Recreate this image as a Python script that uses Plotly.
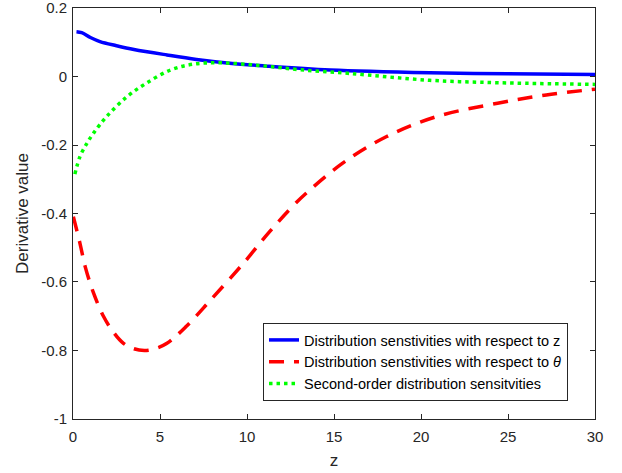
import plotly.graph_objects as go

z_blue = [0.2, 0.5, 1.0, 1.55, 2.5, 3.5, 5.4, 7.1, 9.0, 11.0, 14.8, 20.5, 25.0, 30.0]
v_blue = [0.131, 0.128, 0.114, 0.102, 0.09, 0.079, 0.063, 0.05, 0.039, 0.031, 0.019, 0.011, 0.008, 0.006]

z_red = [0.02, 0.4, 0.7, 1.2, 1.75, 2.3, 2.9, 3.5, 4.1, 4.7, 5.4, 6.5, 7.9, 9.8, 11.3, 12.7, 13.4, 15.5,
         18.0, 20.9, 24.4, 27.2, 30.0]
v_red = [-0.409, -0.487, -0.555, -0.635, -0.70, -0.745, -0.779, -0.795, -0.80, -0.795, -0.779, -0.73,
         -0.653, -0.545, -0.453, -0.375, -0.341, -0.253, -0.176, -0.117, -0.078, -0.054, -0.037]

z_green = [0.11, 0.4, 0.8, 1.17, 1.93, 3.1, 4.2, 5.6, 6.9, 8.45, 10.75, 13.0, 15.9, 20.5, 24.4, 30.0]
v_green = [-0.285, -0.234, -0.195, -0.166, -0.117, -0.059, -0.02, 0.019, 0.036, 0.04, 0.032, 0.02,
           0.009, -0.011, -0.018, -0.023]

x_ticks = [0, 5, 10, 15, 20, 25, 30]
y_ticks = [-1, -0.8, -0.6, -0.4, -0.2, 0, 0.2]
y_ticklabels = ["-1", "-0.8", "-0.6", "-0.4", "-0.2", "0", "0.2"]

names = ["Distribution senstivities with respect to z",
         "Distribution senstivities with respect to <i>θ</i>",
         "Second-order distribution sensitvities"]

FONT = "Liberation Sans, Arial, Helvetica"

fig = go.Figure()
fig.add_trace(go.Scatter(x=z_blue, y=v_blue, mode="lines", name=names[0],
                         line=dict(color="#0000ff", width=3.5, shape="spline")))
fig.add_trace(go.Scatter(x=z_red, y=v_red, mode="lines", name=names[1],
                         line=dict(color="#ff0000", width=3.5, dash="15px,10px", shape="spline")))
fig.add_trace(go.Scatter(x=z_green, y=v_green, mode="lines", name=names[2],
                         line=dict(color="#00ff00", width=3.5, dash="3.5px,4px", shape="spline")))

axis_common = dict(showgrid=False, zeroline=False, showline=True, linecolor="#262626", linewidth=1,
                   mirror="ticks", ticks="inside", ticklen=5, tickcolor="#262626", automargin=False,
                   ticklabeloverflow="allow",
                   tickfont=dict(family=FONT, size=15, color="#262626"))

fig.update_layout(
    width=622, height=473,
    margin=dict(l=73, r=27, t=8, b=54, autoexpand=False),
    paper_bgcolor="white", plot_bgcolor="white",
    font=dict(family=FONT, size=15, color="#262626"),
    xaxis=dict(range=[0, 30], tickvals=x_ticks, ticklabelstandoff=4,
               title=dict(text="z", standoff=10, font=dict(size=17)), **axis_common),
    yaxis=dict(range=[-1.0001, 0.2001], tickvals=y_ticks, ticktext=y_ticklabels, ticklabelstandoff=2,
               title=dict(text="Derivative value", standoff=8, font=dict(size=17)), **axis_common),
    legend=dict(x=0.9483, y=0.2336, xanchor="right", yanchor="top",
                bgcolor="white", bordercolor="#262626", borderwidth=1,
                font=dict(family=FONT, size=14.5, color="black"),
                tracegroupgap=0, itemwidth=30),
    showlegend=True,
)

fig.write_html("out.html", config={"displayModeBar": False, "responsive": False},
               post_script="document.body.style.margin='0px';document.body.style.overflow='hidden';")
